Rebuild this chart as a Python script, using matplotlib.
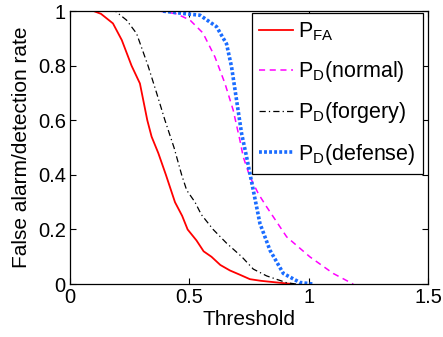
import matplotlib
matplotlib.use("Agg")
import matplotlib.pyplot as plt

plt.rcParams['font.family'] = ['Liberation Sans', 'DejaVu Sans']
plt.rcParams['mathtext.fontset'] = 'custom'
plt.rcParams['mathtext.rm'] = 'Liberation Sans'

fa_x = [0.10, 0.13, 0.18, 0.217, 0.258, 0.293, 0.324, 0.342, 0.37, 0.402, 0.44, 0.47, 0.493, 0.53, 0.56, 0.593, 0.63, 0.67, 0.71, 0.754, 0.80, 0.866, 0.935]
fa_y = [1.0, 0.99, 0.955, 0.894, 0.80, 0.735, 0.60, 0.54, 0.48, 0.40, 0.30, 0.25, 0.20, 0.16, 0.12, 0.10, 0.07, 0.05, 0.035, 0.018, 0.012, 0.006, 0.0]

nor_x = [0.377, 0.447, 0.503, 0.557, 0.607, 0.649, 0.684, 0.712, 0.726, 0.754, 0.79, 0.824, 0.908, 1.005, 1.103, 1.187]
nor_y = [1.0, 0.99, 0.967, 0.92, 0.833, 0.736, 0.637, 0.527, 0.466, 0.393, 0.33, 0.283, 0.173, 0.10, 0.039, 0.0]

for_x = [0.17, 0.19, 0.237, 0.279, 0.327, 0.363, 0.398, 0.436, 0.468, 0.489, 0.524, 0.55, 0.60, 0.656, 0.72, 0.768, 0.824, 0.908, 0.95]
for_y = [1.0, 1.0, 0.967, 0.918, 0.80, 0.70, 0.60, 0.50, 0.40, 0.344, 0.30, 0.255, 0.20, 0.15, 0.10, 0.055, 0.03, 0.005, 0.0]

def_x = [0.39, 0.489, 0.545, 0.614, 0.656, 0.677, 0.698, 0.719, 0.74, 0.768, 0.796, 0.838, 0.894, 0.963, 1.02]
def_y = [1.0, 0.99, 0.985, 0.943, 0.88, 0.796, 0.674, 0.552, 0.466, 0.344, 0.222, 0.124, 0.039, 0.006, 0.0]

labels = [r'$\mathregular{P_{FA}}$', r'$\mathregular{P_D}$(normal)',
          r'$\mathregular{P_D}$(forgery)', r'$\mathregular{P_D}$(defense)']
xticks = [0, 0.5, 1, 1.5]
xticklabels = ['0', '0.5', '1', '1.5']
yticks = [0, 0.2, 0.4, 0.6, 0.8, 1]
yticklabels = ['0', '0.2', '0.4', '0.6', '0.8', '1']

fig = plt.figure(figsize=(4.43, 3.37), dpi=100)
ax = fig.add_axes([0.158, 0.157, 0.808, 0.810])

ax.plot(fa_x, fa_y, color='red', lw=1.3, label=labels[0])
ax.plot(nor_x, nor_y, color='magenta', lw=1.1, dashes=(4, 3), label=labels[1])
ax.plot(for_x, for_y, color='black', lw=0.9, dashes=(5, 2.5, 1, 2.5), label=labels[2])
ax.plot(def_x, def_y, color='#1a6cff', lw=2.6, dashes=(0.8, 0.6), label=labels[3])

ax.set_xlim(0, 1.5)
ax.set_ylim(0, 1)
ax.set_xticks(xticks)
ax.set_xticklabels(xticklabels)
ax.set_yticks(yticks)
ax.set_yticklabels(yticklabels)
ax.tick_params(direction='in', top=True, right=True, labelsize=14.5, length=4, width=0.8, pad=3)
for s in ax.spines.values():
    s.set_linewidth(0.9)
ax.set_xlabel('Threshold', fontsize=15, labelpad=2)
ax.set_ylabel('False alarm/detection rate', fontsize=15, labelpad=5)

leg = ax.legend(loc='upper right', bbox_to_anchor=(0.986, 0.993), borderaxespad=0,
                fancybox=False, framealpha=1, edgecolor='black', fontsize=15.5,
                handlelength=1.55, handletextpad=0.25, labelspacing=0.75, borderpad=0.35)
leg.get_frame().set_linewidth(0.9)

fig.savefig('out.png', dpi=100)
